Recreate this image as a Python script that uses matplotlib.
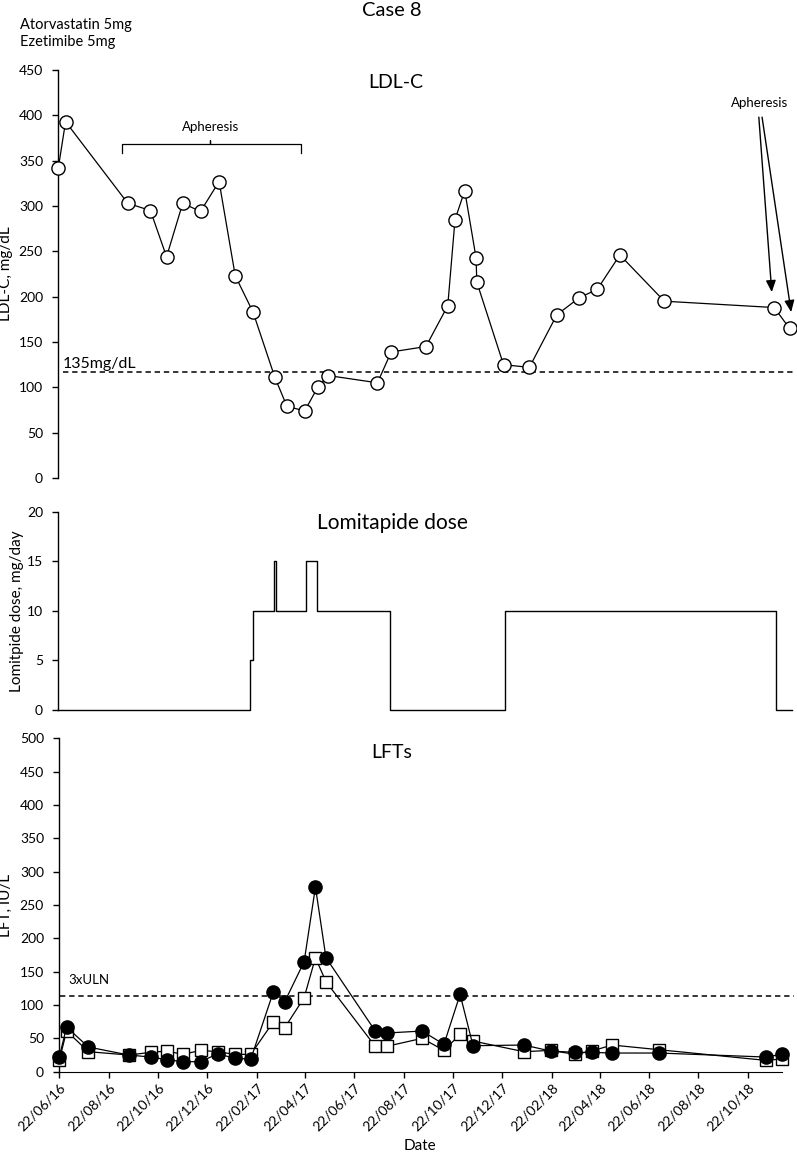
import numpy as np
import matplotlib
matplotlib.use('Agg')
import matplotlib.pyplot as plt
import matplotlib.dates as mdates

plt.rcParams['font.family'] = ['Lato', 'DejaVu Sans']

# LDL-C, mg/dL
ldl_dates = ['2016-06-21', '2016-06-30', '2016-09-15', '2016-10-13', '2016-11-02',
             '2016-11-22', '2016-12-14', '2017-01-06', '2017-01-26', '2017-02-17',
             '2017-03-16', '2017-03-31', '2017-04-22', '2017-05-08', '2017-05-21',
             '2017-07-21', '2017-08-07', '2017-09-19', '2017-10-16', '2017-10-25',
             '2017-11-06', '2017-11-20', '2017-11-21', '2017-12-24', '2018-01-25',
             '2018-02-28', '2018-03-28', '2018-04-19', '2018-05-17', '2018-07-11',
             '2018-11-24', '2018-12-13']
ldl_values = [342, 393, 303, 295, 244, 303, 294, 327, 223, 183,
              111, 79, 74, 100, 113, 105, 139, 145, 190, 285,
              317, 243, 216, 125, 122, 180, 199, 208, 246, 195,
              188, 165]
ldl_cutoff = 117

# lomitapide dose, mg/day (held until next date)
dose_dates = ['2016-06-21', '2017-02-13', '2017-02-17', '2017-03-15', '2017-03-17',
              '2017-04-24', '2017-05-07', '2017-08-06', '2017-12-26', '2018-11-26',
              '2018-12-16']
dose_values = [0, 5, 10, 15, 10, 15, 10, 0, 10, 0, 0]

# LFTs, IU/L
lft_dates = ['2016-06-22', '2016-07-01', '2016-07-28', '2016-09-16', '2016-10-13',
             '2016-11-02', '2016-11-22', '2016-12-14', '2017-01-04', '2017-01-25',
             '2017-02-14', '2017-03-14', '2017-03-28', '2017-04-21', '2017-05-05',
             '2017-05-18', '2017-07-18', '2017-08-01', '2017-09-14', '2017-10-11',
             '2017-10-31', '2017-11-16', '2018-01-18', '2018-02-20', '2018-03-22',
             '2018-04-12', '2018-05-07', '2018-07-04', '2018-11-13', '2018-12-03']
lft_circle = [22, 67, 37, 25, 22, 18, 15, 15, 27, 20,
              19, 120, 105, 165, 277, 171, 61, 58, 61, 41,
              116, 39, 40, 31, 29, 29, 28, 28, 22, 26]
lft_square = [17, 61, 30, 25, 29, 31, 26, 32, 30, 26,
              26, 75, 66, 111, 171, 135, 38, 38, 50, 32,
              56, 46, 30, 32, 26, 31, 40, 33, 17, 19]
uln3 = 114

W, H = 797, 1154
fig = plt.figure(figsize=(W / 100, H / 100), dpi=100)


def box(l, t, r, b):
    return [l / W, 1 - b / H, (r - l) / W, (b - t) / H]


def ftext(x, y, s, **kw):
    fig.text(x / W, 1 - y / H, s, **kw)


def d(lst):
    return np.array(lst, dtype='datetime64[D]')


ax1 = fig.add_axes(box(58.3, 70, 796, 478))
ax2 = fig.add_axes(box(58.3, 511.7, 796, 710))
ax3 = fig.add_axes(box(59.3, 738.3, 781.7, 1071.7))

for ax in (ax1, ax2, ax3):
    ax.spines['top'].set_visible(False)
    ax.spines['right'].set_visible(False)
    ax.spines['left'].set_linewidth(1.0)
    ax.tick_params(axis='y', direction='out', length=4, width=1, pad=7, labelsize=10)
for ax in (ax1, ax2):
    ax.spines['bottom'].set_visible(False)
    ax.set_xticks([])
    ax.set_xlim(np.datetime64('2016-06-21'), np.datetime64('2018-12-21'))

# LDL-C
ax1.plot(d(ldl_dates), ldl_values, '-o', color='black', lw=0.9, ms=9.5,
         mfc='white', mec='black', mew=1.0, clip_on=False, zorder=3)
ax1.axhline(ldl_cutoff, xmin=0.006, xmax=0.996, color='black', lw=1.1, dashes=(3.5, 2.5))
ax1.set_ylim(0, 450)
ax1.set_yticks(range(0, 451, 50))
ax1.set_ylabel('LDL-C, mg/dL', fontsize=11)
ax1.yaxis.set_label_coords(-0.061, 0.5)
ax1.text(np.datetime64('2016-06-26'), 126, '135mg/dL', fontsize=11.5, va='center')

# apheresis bracket
bx0, bx1, bxm = np.datetime64('2016-09-08'), np.datetime64('2017-04-17'), np.datetime64('2016-12-26')
ax1.plot([bx0, bx0, bxm, bxm, bxm, bx1, bx1], [359, 368, 368, 373, 368, 368, 359],
         color='black', lw=0.9, clip_on=False)
ax1.text(bxm, 387, 'Apheresis', fontsize=9.5, ha='center', va='center')

# apheresis arrows
ax1.text(np.datetime64('2018-11-06'), 414, 'Apheresis', fontsize=9.5, ha='center', va='center')
arrow = dict(arrowstyle='-|>,head_length=0.7,head_width=0.3', color='black', lw=1.0,
             shrinkA=0, shrinkB=0)
ax1.annotate('', xy=(np.datetime64('2018-11-21'), 205), xytext=(np.datetime64('2018-11-05'), 398),
             arrowprops=arrow, annotation_clip=False)
ax1.annotate('', xy=(np.datetime64('2018-12-15'), 183), xytext=(np.datetime64('2018-11-09'), 398),
             arrowprops=arrow, annotation_clip=False)

# lomitapide dose
ax2.step(d(dose_dates), dose_values, where='post', color='black', lw=1.0, clip_on=False)
ax2.set_ylim(0, 20)
ax2.set_yticks(range(0, 21, 5))
ax2.set_ylabel('Lomitpide dose, mg/day', fontsize=11)
ax2.yaxis.set_label_coords(-0.047, 0.5)

# LFTs
ax3.plot(d(lft_dates), lft_square, '-s', color='black', lw=0.9, ms=9,
         mfc='white', mec='black', mew=1.0, clip_on=False, zorder=3)
ax3.plot(d(lft_dates), lft_circle, '-o', color='black', lw=0.9, ms=9.5,
         mfc='black', mec='black', clip_on=False, zorder=4)
ax3.axhline(uln3, xmin=0.001, xmax=1.017, color='black', lw=1.1, dashes=(3.5, 2.5), clip_on=False)
ax3.text(np.datetime64('2016-07-03'), 137, '3xULN', fontsize=9.5, va='center')
ax3.set_ylim(0, 500)
ax3.set_yticks(range(0, 501, 50))
ax3.set_xlim(np.datetime64('2016-06-22'), np.datetime64('2018-12-03'))
ax3.xaxis.set_major_locator(mdates.MonthLocator(bymonth=[2, 4, 6, 8, 10, 12], bymonthday=22))
ax3.xaxis.set_major_formatter(mdates.DateFormatter('%d/%m/%y'))
ax3.tick_params(axis='x', direction='out', length=4, width=1, pad=3, labelsize=10)
for lab in ax3.get_xticklabels():
    lab.set_rotation(45)
    lab.set_ha('right')
    lab.set_rotation_mode('anchor')
ax3.set_ylabel('LFT, IU/L', fontsize=11)
ax3.yaxis.set_label_coords(-0.064, 0.5)

# titles and notes
ftext(392, 11, 'Case 8', fontsize=14.5, ha='center', va='center')
ftext(396, 82, 'LDL-C', fontsize=14, ha='center', va='center')
ftext(392, 523, 'Lomitapide dose', fontsize=15, ha='center', va='center')
ftext(392, 752, 'LFTs', fontsize=14, ha='center', va='center')
ftext(20, 25, 'Atorvastatin 5mg', fontsize=10.5, va='center')
ftext(20, 42, 'Ezetimibe 5mg', fontsize=10.5, va='center')
ftext(420, 1146, 'Date', fontsize=11, ha='center', va='center')

fig.savefig('out.png', dpi=100)
